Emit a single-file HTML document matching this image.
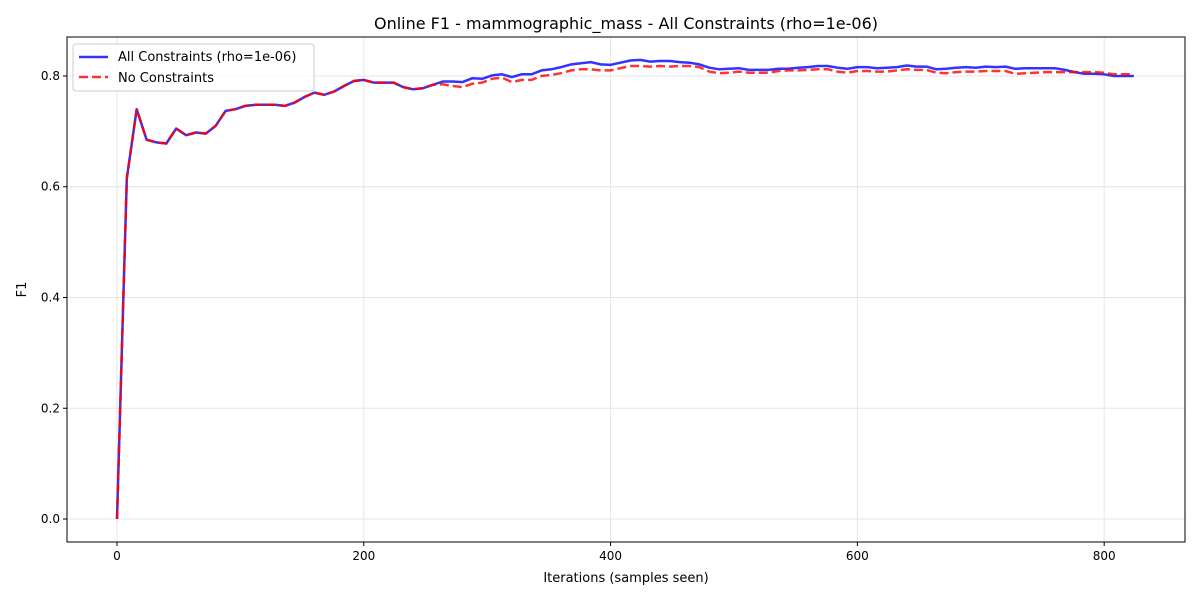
<!DOCTYPE html>
<html><head><meta charset="utf-8"><style>
body{margin:0;background:#fff;font-family:"Liberation Sans","DejaVu Sans",sans-serif}
</style></head><body>
<svg id="chart" width="1200" height="600" xmlns="http://www.w3.org/2000/svg" font-family="DejaVu Sans, Liberation Sans, sans-serif"></svg>
<script>
const stepSize = 8;
const allConstraints = [0.0,0.615,0.74,0.685,0.68,0.678,0.705,0.693,0.698,0.696,0.71,0.737,0.74,0.746,0.748,0.748,0.748,0.746,0.752,0.762,0.77,0.766,0.772,0.782,0.791,0.793,0.788,0.788,0.788,0.78,0.776,0.778,0.784,0.79,0.79,0.789,0.796,0.795,0.801,0.803,0.798,0.803,0.803,0.81,0.812,0.816,0.821,0.823,0.825,0.821,0.82,0.824,0.828,0.829,0.826,0.827,0.827,0.825,0.824,0.821,0.815,0.812,0.813,0.814,0.811,0.811,0.811,0.813,0.813,0.815,0.816,0.818,0.818,0.815,0.813,0.816,0.816,0.814,0.815,0.816,0.819,0.817,0.817,0.812,0.813,0.815,0.816,0.815,0.817,0.816,0.817,0.813,0.814,0.814,0.814,0.814,0.811,0.807,0.804,0.804,0.803,0.8,0.8,0.8];
const noConstraints = [0.0,0.615,0.74,0.685,0.68,0.678,0.705,0.693,0.698,0.696,0.71,0.737,0.74,0.746,0.748,0.748,0.748,0.746,0.752,0.762,0.77,0.766,0.772,0.782,0.791,0.793,0.788,0.788,0.788,0.78,0.776,0.778,0.784,0.785,0.782,0.78,0.786,0.788,0.795,0.797,0.789,0.793,0.793,0.8,0.802,0.805,0.81,0.812,0.812,0.81,0.81,0.814,0.818,0.818,0.817,0.818,0.817,0.818,0.818,0.816,0.808,0.805,0.806,0.808,0.806,0.806,0.806,0.809,0.81,0.81,0.811,0.812,0.812,0.808,0.806,0.809,0.809,0.808,0.808,0.81,0.812,0.811,0.811,0.806,0.805,0.807,0.808,0.808,0.809,0.809,0.809,0.804,0.805,0.806,0.807,0.807,0.807,0.807,0.807,0.807,0.806,0.803,0.803,0.803];
const xTicks = [0,200,400,600,800];
const yTicks = [0.0,0.2,0.4,0.6,0.8];
const yTickLabels = ["0.0","0.2","0.4","0.6","0.8"];

const L=67,R=1185,T=37,B=542;
const xMin=-40.5,xMax=865.5,yMin=-0.0415,yMax=0.8704;
const sx=v=>L+(v-xMin)/(xMax-xMin)*(R-L);
const sy=v=>B-(v-yMin)/(yMax-yMin)*(B-T);
const svg=document.getElementById('chart');
const NS='http://www.w3.org/2000/svg';
function mk(tag,attrs,parent){const e=document.createElementNS(NS,tag);for(const k in attrs)e.setAttribute(k,attrs[k]);(parent||svg).appendChild(e);return e;}

xTicks.forEach(t=>{
  const g=mk('line',{x1:sx(t),x2:sx(t),y1:T,y2:B,stroke:'#e6e6e6','stroke-width':1});
  
  
  mk('line',{x1:sx(t),x2:sx(t),y1:B,y2:B+4,stroke:'#000'});
  const tx=mk('text',{x:sx(t),y:B+18,'text-anchor':'middle','font-size':12});
  tx.textContent=t;
  
  
});
yTicks.forEach((t,i)=>{
  const g=mk('line',{x1:L,x2:R,y1:sy(t),y2:sy(t),stroke:'#e6e6e6','stroke-width':1});
  
  
  mk('line',{x1:L-4,x2:L,y1:sy(t),y2:sy(t),stroke:'#000'});
  const tx=mk('text',{x:L-7,y:sy(t)+4,'text-anchor':'end','font-size':12});
  tx.textContent=yTickLabels[i];
  
  
});

function path(arr){return arr.map((v,i)=>(i?'L':'M')+sx(i*stepSize).toFixed(1)+','+sy(v).toFixed(1)).join(' ');}
const blue=mk('path',{d:path(allConstraints),fill:'none',stroke:'#0000ff','stroke-opacity':0.8,'stroke-width':2.5,'stroke-linejoin':'round'});


const red=mk('path',{d:path(noConstraints),fill:'none',stroke:'#ff0000','stroke-opacity':0.8,'stroke-width':2.5,'stroke-dasharray':'9,4'});



const frame=mk('rect',{x:L,y:T,width:R-L,height:B-T,fill:'none',stroke:'#000','stroke-width':1});



const title=mk('text',{x:(L+R)/2,y:29,'text-anchor':'middle','font-size':16});
title.textContent='Online F1 - mammographic_mass - All Constraints (rho=1e-06)';


const xl=mk('text',{x:(L+R)/2,y:582,'text-anchor':'middle','font-size':13});
xl.textContent='Iterations (samples seen)';


const yl=mk('text',{x:0,y:0,'text-anchor':'middle','font-size':13,transform:'translate(26,'+((T+B)/2)+') rotate(-90)'});
yl.textContent='F1';



const lg=mk('g',{});


mk('rect',{x:73,y:44,width:241,height:47,rx:3,fill:'#fff','fill-opacity':0.8,stroke:'#ccc'},lg);
mk('line',{x1:79,x2:108,y1:57,y2:57,stroke:'#0000ff','stroke-opacity':0.8,'stroke-width':2.5},lg);
mk('line',{x1:79,x2:108,y1:77,y2:77,stroke:'#ff0000','stroke-opacity':0.8,'stroke-width':2.5,'stroke-dasharray':'9,4'},lg);
const l1=mk('text',{x:118,y:61,'font-size':13},lg);l1.textContent='All Constraints (rho=1e-06)';


const l2=mk('text',{x:118,y:82,'font-size':13},lg);l2.textContent='No Constraints';


</script>
</body></html>
